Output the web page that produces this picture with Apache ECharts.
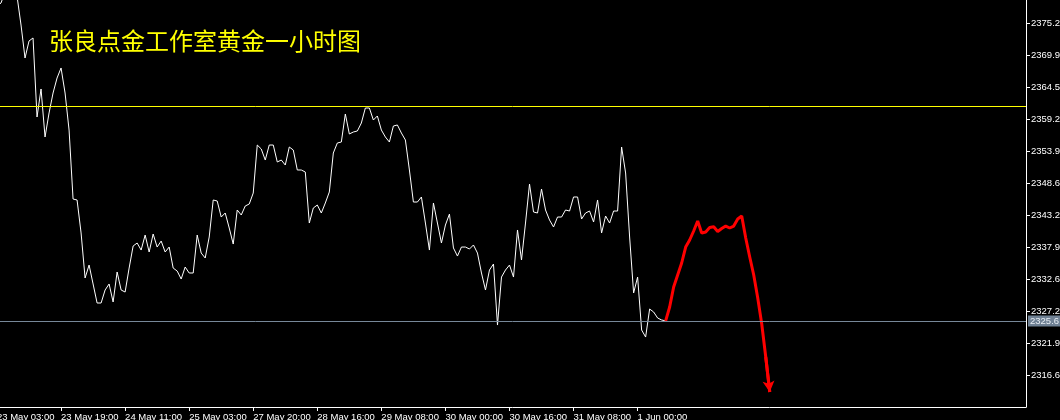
<!DOCTYPE html>
<html>
<head>
<meta charset="utf-8">
<script src="https://cdn.jsdelivr.net/npm/echarts@6/dist/echarts.min.js"></script>
<style>
html,body{margin:0;padding:0;background:#000;}
#chart{width:1060px;height:420px;}
</style>
</head>
<body>
<div id="chart"></div>
<script>
// ---- data ----
const chartTitle = '张良点金工作室黄金一小时图';
const tickLabels = ['23 May 03:00','23 May 19:00','24 May 11:00','25 May 03:00','27 May 20:00','28 May 16:00','29 May 08:00','30 May 00:00','30 May 16:00','31 May 08:00','1 Jun 00:00'];
const barsPerLabel = 16;
const totalBars = 258;
const yTicks = [2375.2,2369.9,2364.5,2359.2,2353.9,2348.6,2343.2,2337.9,2332.6,2327.2,2321.9,2316.6];
const bidPrice = 2325.6;
const levelPrice = 2361.4;
const closes = [
2378.08,2378.58,2380.41,2382.41,2381.58,2379.75,2374.91,2369.41,2372.25,2372.75,
2359.58,2364.25,2356.25,2360.25,2363.58,2366.08,2367.75,2363.58,2357.41,2345.91,
2345.75,2340.25,2332.75,2334.91,2331.75,2328.58,2328.58,2330.75,2331.75,2328.75,
2333.75,2330.75,2330.41,2334.41,2338.08,2338.58,2337.41,2339.91,2337.08,2340.08,
2337.91,2338.91,2337.08,2337.91,2334.41,2333.91,2332.58,2334.58,2333.58,2333.58,
2339.91,2336.91,2336.08,2339.58,2345.75,2345.58,2342.91,2343.58,2341.08,2338.41,
2344.08,2343.25,2344.75,2345.08,2346.91,2354.91,2354.25,2352.41,2354.91,2354.91,
2352.08,2352.41,2351.58,2354.58,2354.08,2350.75,2350.75,2350.41,2341.91,2344.41,
2344.91,2343.58,2345.25,2347.08,2353.58,2355.25,2355.41,2360.08,2356.75,2357.08,
2357.25,2358.58,2361.08,2361.08,2359.08,2359.75,2357.41,2356.25,2355.41,2358.08,
2358.25,2356.91,2355.75,2350.75,2345.41,2345.41,2346.25,2341.91,2337.41,2345.25,
2341.91,2338.58,2341.58,2343.41,2337.75,2336.41,2337.91,2337.91,2337.58,2338.25,
2336.91,2333.58,2330.75,2334.08,2335.08,2324.91,2332.91,2334.08,2334.91,2332.91,
2340.75,2335.75,2341.91,2348.41,2343.75,2343.58,2347.58,2344.08,2342.41,2341.25,
2342.91,2342.91,2344.08,2343.91,2346.25,2346.25,2342.58,2343.58,2343.91,2342.08,
2345.75,2340.25,2343.08,2341.91,2343.91,2343.91,2354.58,2350.25,2339.58,2330.25,
2332.91,2324.08,2322.91,2327.58,2327.08,2326.08,2325.75,2325.6
];
const forecast = [
2325.6,2327.91,2331.25,2333.25,2335.25,2337.91,2339.08,2340.58,2342.25,2340.25,
2340.41,2341.16,2341.3,2340.5,2341.0,2341.41,2341.08,2341.41,2342.58,2343.08,
2339.41,2336.25,2333.25,2329.41,2325.08,2319.58,2313.75
];

// ---- build ----
const categories = Array.from({length: totalBars}, (_, i) => String(i));
const isLabelIdx = i => i % barsPerLabel === 0 && (i / barsPerLabel) < tickLabels.length;
const fcStart = closes.length - 1;
const fcData = categories.map((_, i) => (i >= fcStart && i - fcStart < forecast.length) ? forecast[i - fcStart] : null);
const lastIdx = fcStart + forecast.length - 1;
const font = 'Liberation Sans, Arial, sans-serif';

const chart = echarts.init(document.getElementById('chart'), null, {renderer: 'canvas'});
chart.setOption({
  backgroundColor: '#000000',
  animation: false,
  title: {
    text: chartTitle,
    left: 49, top: 29, padding: 0,
    textStyle: {color: '#ffff00', fontSize: 24, fontWeight: 'normal', fontFamily: 'Noto Sans CJK SC'}
  },
  grid: {left: -3, right: 34, top: 0, bottom: 13, containLabel: false, outerBoundsMode: 'none'},
  xAxis: {
    type: 'category',
    data: categories,
    boundaryGap: false,
    axisLine: {show: true, lineStyle: {color: '#ffffff', width: 1}},
    axisTick: {show: true, length: 4, interval: (i) => isLabelIdx(i), lineStyle: {color: '#ffffff'}},
    axisLabel: {
      interval: (i) => isLabelIdx(i),
      formatter: (v, i) => tickLabels[i / barsPerLabel] || '',
      color: '#ffffff', fontSize: 9.5, fontFamily: font,
      align: 'left', margin: 5
    },
    splitLine: {show: false}
  },
  yAxis: {
    type: 'value',
    position: 'right',
    min: 2311.25, max: 2379.08,
    axisLine: {show: true, lineStyle: {color: '#ffffff', width: 1}},
    axisTick: {show: true, length: 4, customValues: yTicks, lineStyle: {color: '#ffffff'}},
    axisLabel: {
      customValues: yTicks,
      formatter: v => v.toFixed(1),
      color: '#ffffff', fontSize: 9.5, fontFamily: font, margin: 5
    },
    splitLine: {show: false}
  },
  series: [
    {
      type: 'line',
      data: closes,
      showSymbol: false,
      symbol: 'none',
      lineStyle: {color: '#ffffff', width: 1},
      clip: true,
      z: 3,
      markLine: {
        silent: true,
        symbol: ['none', 'none'],
        data: [
          {yAxis: levelPrice, lineStyle: {color: '#ffff00', width: 1, type: 'solid'}, label: {show: false}},
          {yAxis: bidPrice, lineStyle: {color: '#778899', width: 1, type: 'solid'},
            label: {show: true, position: 'end', distance: 2, formatter: () => bidPrice.toFixed(1),
              backgroundColor: '#6f8194', color: '#e8eef4', fontSize: 9.5, fontFamily: font, padding: [1, 3, 0, 2]}}
        ]
      }
    },
    {
      type: 'line',
      data: fcData,
      showSymbol: false,
      symbol: 'none',
      connectNulls: false,
      lineStyle: {color: '#ff0000', width: 3},
      z: 4,
      markLine: {
        silent: true,
        symbol: ['none', 'arrow'],
        symbolSize: [9, 11],
        lineStyle: {color: '#ff0000', width: 3, type: 'solid'},
        label: {show: false},
        data: [[
          {coord: [lastIdx - 1, forecast[forecast.length - 2]]},
          {coord: [lastIdx, forecast[forecast.length - 1]]}
        ]]
      }
    }
  ]
});
</script>
</body>
</html>
